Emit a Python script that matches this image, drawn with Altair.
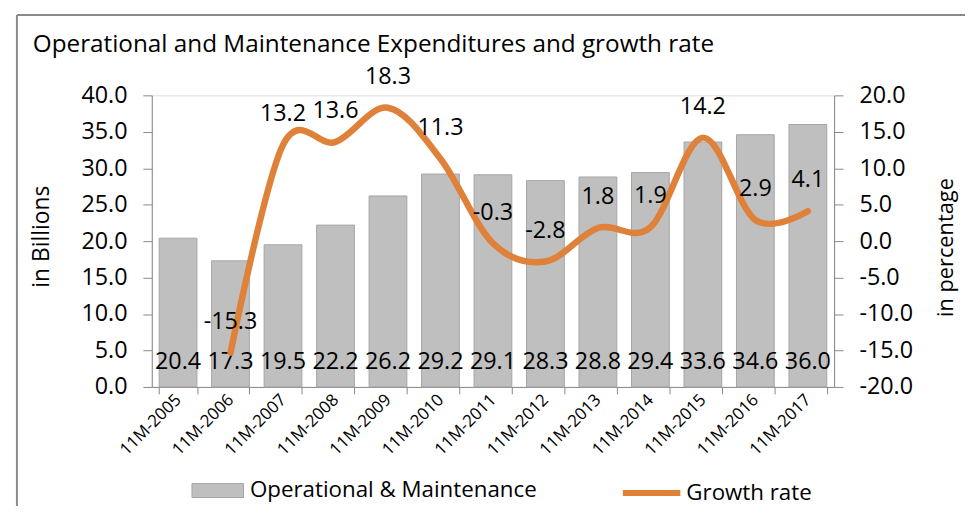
import altair as alt
import pandas as pd

categories = ["11M-2005", "11M-2006", "11M-2007", "11M-2008", "11M-2009", "11M-2010",
              "11M-2011", "11M-2012", "11M-2013", "11M-2014", "11M-2015", "11M-2016", "11M-2017"]
om_values = [20.4, 17.3, 19.5, 22.2, 26.2, 29.2, 29.1, 28.3, 28.8, 29.4, 33.6, 34.6, 36.0]
growth_values = [None, -15.3, 13.2, 13.6, 18.3, 11.3, -0.3, -2.8, 1.8, 1.9, 14.2, 2.9, 4.1]
bar_series = "Operational & Maintenance"
line_series = "Growth rate"
left_ticks = [0, 5, 10, 15, 20, 25, 30, 35, 40]
right_ticks = [-20, -15, -10, -5, 0, 5, 10, 15, 20]

df = pd.DataFrame({"cat": categories, "om": om_values, "growth": growth_values,
                   "bs": bar_series, "ls": line_series, "zero": 0})

FONT = "Open Sans"
AX = "#868686"
GREY = "#bfbfbf"
ORANGE = "#df8138"
NUM = 23.5
MINUS_FIX = "replace(datum.label, '\u2212', '-')"

x = alt.X("cat:N", sort=categories, title=None,
          scale=alt.Scale(paddingInner=0.28, paddingOuter=0.14),
          axis=alt.Axis(labelAngle=315, labelAlign="right", labelBaseline="middle",
                        labelFontSize=17, labelPadding=3, tickBand="extent", tickSize=7,
                        labelFont=FONT, labelColor="#000", grid=False, labelOverlap=False))

yl_scale = alt.Scale(domain=[0, 40], nice=False, zero=False)
yr_scale = alt.Scale(domain=[-20, 20], nice=False, zero=False)

left_axis = alt.Axis(orient="left", values=left_ticks, format=".1f", title="in Billions",
                     titleX=-111, titleY=142, titleAngle=270, titleAlign="center",
                     titleBaseline="middle", titleFontSize=23, titleFontWeight="normal",
                     titleFont=FONT, titleColor="#000", grid=False, labelOverlap=False,
                     labelFontSize=NUM, labelFont=FONT, labelColor="#000",
                     tickSize=9, labelPadding=16)
right_axis = alt.Axis(orient="right", values=right_ticks, format=".1f", title="in percentage",
                      labelExpr=MINUS_FIX,
                      titleX=112, titleY=153, titleAngle=270, titleAlign="center",
                      titleBaseline="middle", titleFontSize=22, titleFontWeight="normal",
                      titleFont=FONT, titleColor="#000", grid=False, labelOverlap=False,
                      labelFontSize=NUM, labelFont=FONT, labelColor="#000",
                      tickSize=9, labelPadding=16)

bars = alt.Chart(df).mark_bar(stroke="#a5a5a5", strokeWidth=1).encode(
    x=x,
    y=alt.Y("om:Q", scale=yl_scale, axis=left_axis),
    fill=alt.Fill("bs:N", scale=alt.Scale(range=[GREY]),
                  legend=alt.Legend(orient="none", legendX=40, legendY=372, title=None,
                                    symbolType="M-1,-0.27L1,-0.27L1,0.27L-1,0.27Z",
                                    symbolSize=2704, symbolStrokeColor="#a5a5a5",
                                    symbolStrokeWidth=1, labelFontSize=22.5, labelFont=FONT,
                                    labelColor="#000", labelOffset=6, padding=0,
                                    labelLimit=0)),
)

bar_labels = alt.Chart(df).mark_text(baseline="alphabetic", dy=-18, fontSize=NUM,
                                     font=FONT, color="#000").encode(
    x=x,
    y=alt.Y("zero:Q", scale=yl_scale, axis=left_axis),
    text=alt.Text("om:Q", format=".1f"),
)

border = alt.Chart(pd.DataFrame({"k": [0]})).mark_rule(color="#8a8a8a", strokeWidth=2).encode(
    x=alt.value(-136), x2=alt.value(900), y=alt.value(-81), y2=alt.value(-81))
border_left = alt.Chart(pd.DataFrame({"k": [0]})).mark_rule(color="#8a8a8a", strokeWidth=2).encode(
    x=alt.value(-136), y=alt.value(-81), y2=alt.value(500))

left = alt.layer(border, border_left, bars, bar_labels)

line = alt.Chart(df).transform_filter("isValid(datum.growth)").mark_line(
    interpolate="cardinal", strokeWidth=6.5, strokeCap="round", strokeJoin="round").encode(
    x=x,
    y=alt.Y("growth:Q", scale=yr_scale, axis=right_axis),
    stroke=alt.Stroke("ls:N", scale=alt.Scale(range=[ORANGE]),
                      legend=alt.Legend(orient="none", legendX=472, legendY=369, title=None,
                                        symbolType="M-1,0L1,0", symbolSize=3364,
                                        symbolStrokeWidth=6, labelFontSize=22.5, labelFont=FONT,
                                        labelColor="#000", labelOffset=3, padding=0,
                                        labelLimit=0)),
)

line_labels = alt.Chart(df).transform_filter("isValid(datum.growth)").transform_calculate(
    glabel="replace(format(datum.growth, '.1f'), '\u2212', '-')"
).mark_text(baseline="middle", dy=-31, fontSize=NUM, font=FONT, color="#000").encode(
    x=x,
    y=alt.Y("growth:Q", scale=yr_scale, axis=right_axis),
    text="glabel:N",
)

right = alt.layer(line, line_labels)

chart = alt.layer(left, right).resolve_scale(y="independent").properties(
    width=688, height=294,
    title=alt.TitleParams("Operational and Maintenance Expenditures and growth rate",
                          anchor="start", frame="group", dx=-120, dy=63, offset=0,
                          baseline="alphabetic",
                          fontSize=24.5, font=FONT, fontWeight="normal", color="#000"),
    autosize=alt.AutoSizeParams(type="none"),
    padding={"left": 145, "top": 86, "right": 132, "bottom": 118},
).configure_view(fill="#fdeee9", stroke=None).configure_axis(
    domainColor=AX, tickColor=AX, grid=False, domainWidth=1
).configure(background="white")

chart.save("out.html", embed_options={"renderer": "svg", "actions": False})
